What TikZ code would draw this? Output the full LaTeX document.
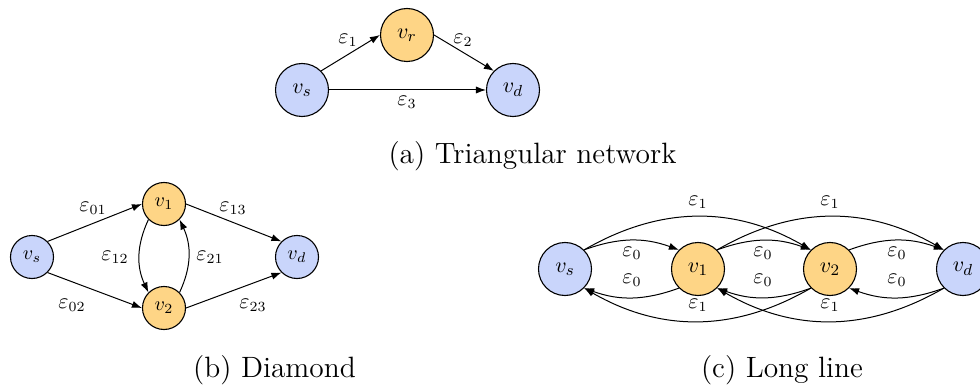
\documentclass[tikz,border=0pt]{standalone}
\usetikzlibrary{arrows.meta}
\definecolor{nblue}{RGB}{201,213,251}
\definecolor{norange}{RGB}{254,213,134}
\begin{document}
\begin{tikzpicture}[x=0.5pt,y=-0.5pt,
  every node/.style={inner sep=0pt},
  nd/.style={circle,draw,line width=0.55pt,inner sep=0pt},
  bignd/.style={nd,minimum size=26.5pt,font=\fontsize{10.8}{12}\selectfont},
  smallnd/.style={nd,minimum size=21.5pt,font=\fontsize{10.4}{12}\selectfont},
  src/.style={fill=nblue},
  rel/.style={fill=norange},
  arr/.style={-{Latex[length=5pt,width=3.6pt]},line width=0.5pt},
  biglab/.style={font=\fontsize{10.5}{12}\selectfont},
  smalllab/.style={font=\fontsize{10.5}{12}\selectfont},
  captxt/.style={font=\fontsize{14.7}{17}\selectfont}]
\useasboundingbox (0,0) rectangle (980,385);
% (a) triangular
\node[bignd,src] (tvs) at (302,90) {$v_s$};
\node[bignd,rel] (tvr) at (407,35) {$v_r$};
\node[bignd,src] (tvd) at (513,90) {$v_d$};
\draw[arr] (tvs.north east) -- (tvr.west);
\draw[arr] (tvr.east) -- (tvd.north west);
\draw[arr] (tvs.east) -- (tvd.west);
\node[biglab] (te1) at (348,40) {$\varepsilon_1$};
\node[biglab] (te2) at (463,40) {$\varepsilon_2$};
\node[biglab] (te3) at (407,102) {$\varepsilon_3$};
\node[captxt] (capa) at (532.5,156) {(a) Triangular network};
% (b) diamond
\node[smallnd,src] (dvs) at (32,257) {$v_s$};
\node[smallnd,rel] (dv1) at (164,204) {$v_1$};
\node[smallnd,rel] (dv2) at (164,308) {$v_2$};
\node[smallnd,src] (dvd) at (297,257) {$v_d$};
\draw[arr] (dvs.north east) -- (dv1.west);
\draw[arr] (dvs.south east) -- (dv2.west);
\draw[arr] (dv1.east) -- (dvd.north west);
\draw[arr] (dv2.east) -- (dvd.south west);
\draw[arr] (dv1.south west) to[bend right=25] (dv2.north west);
\draw[arr] (dv2.north east) to[bend right=25] (dv1.south east);
\node[smalllab] (de01) at (93,208) {$\varepsilon_{01}$};
\node[smalllab] (de13) at (233,208) {$\varepsilon_{13}$};
\node[smalllab] (de12) at (115,257) {$\varepsilon_{12}$};
\node[smalllab] (de21) at (210,257) {$\varepsilon_{21}$};
\node[smalllab] (de02) at (72,305) {$\varepsilon_{02}$};
\node[smalllab] (de23) at (253,305) {$\varepsilon_{23}$};
\node[captxt] (capb) at (274.5,370) {(b) Diamond};
% (c) long line
\node[bignd,src] (lvs) at (565,269) {$v_s$};
\node[bignd,rel] (lv1) at (698,269) {$v_1$};
\node[bignd,rel] (lv2) at (830,269) {$v_2$};
\node[bignd,src] (lvd) at (963,269) {$v_d$};
\draw[arr] (lvs.north east) to[bend left=20] (lv1.north west);
\draw[arr] (lv1.north east) to[bend left=20] (lv2.north west);
\draw[arr] (lv2.north east) to[bend left=20] (lvd.north west);
\draw[arr] (lvs.north east) to[bend left=30] (lv2.north west);
\draw[arr] (lv1.north east) to[bend left=30] (lvd.north west);
\draw[arr] (lv1.south west) to[bend left=20] (lvs.south east);
\draw[arr] (lv2.south west) to[bend left=20] (lv1.south east);
\draw[arr] (lvd.south west) to[bend left=20] (lv2.south east);
\draw[arr] (lv2.south west) to[bend left=30] (lvs.south east);
\draw[arr] (lvd.south west) to[bend left=30] (lv1.south east);
\node[biglab] (le1a) at (698,202) {$\varepsilon_1$};
\node[biglab] (le1b) at (830,202) {$\varepsilon_1$};
\node[biglab] (le0a) at (632,253) {$\varepsilon_0$};
\node[biglab] (le0b) at (763,253) {$\varepsilon_0$};
\node[biglab] (le0c) at (897,253) {$\varepsilon_0$};
\node[biglab] (le0d) at (632,280) {$\varepsilon_0$};
\node[biglab] (le0e) at (763,280) {$\varepsilon_0$};
\node[biglab] (le0f) at (897,280) {$\varepsilon_0$};
\node[biglab] (le1c) at (698,305) {$\varepsilon_1$};
\node[biglab] (le1d) at (830,305) {$\varepsilon_1$};
\node[captxt] (capc) at (782,370) {(c) Long line};
\end{tikzpicture}
\end{document}
